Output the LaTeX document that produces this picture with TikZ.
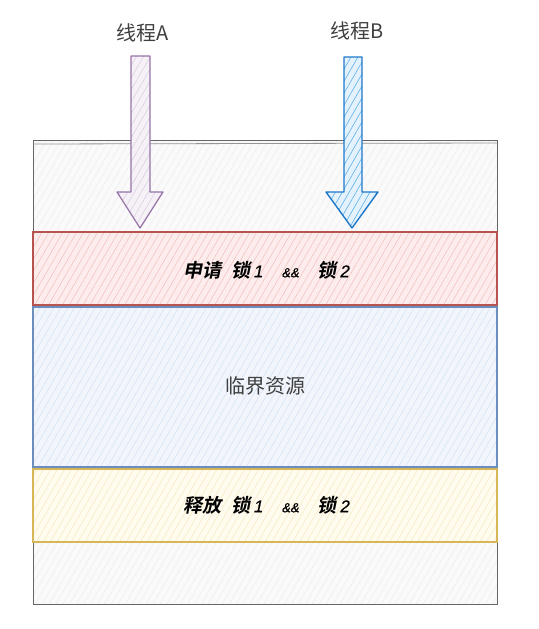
\documentclass[tikz,border=0pt]{standalone}
\usepackage{fontspec}
\usetikzlibrary{patterns.meta}
\newfontfamily\cjk{Noto Sans CJK SC}
\newfontfamily\cjkbi{Noto Sans CJK SC Bold}[FakeSlant=0.2]
\newfontfamily\latbi{Liberation Sans}[FakeSlant=0.2, FakeBold=0.6]
\definecolor{outerline}{HTML}{666666}
\definecolor{outerfill}{HTML}{FAFAFA}
\definecolor{outerhatch}{HTML}{EDEDED}
\definecolor{redline}{HTML}{B85450}
\definecolor{redfill}{HTML}{FCEDEC}
\definecolor{redhatch}{HTML}{F2BDBA}
\definecolor{blueline}{HTML}{6C8EBF}
\definecolor{bluefill}{HTML}{F2F6FC}
\definecolor{bluehatch}{HTML}{D3E1F4}
\definecolor{yelline}{HTML}{D6B656}
\definecolor{yelfill}{HTML}{FFFBEE}
\definecolor{yelhatch}{HTML}{F7E8BC}
\definecolor{purpline}{HTML}{9673A6}
\definecolor{purpfill}{HTML}{F5F1F7}
\definecolor{purphatch}{HTML}{D8CCE0}
\definecolor{bline}{HTML}{1F78C8}
\definecolor{bfill}{HTML}{E3F2FC}
\definecolor{bhatch}{HTML}{4FA8E6}
\tikzset{
  band/.style={draw=#1line, line width=1.2pt, fill=#1fill},
  hatch/.style={pattern={Lines[angle=60, distance=6pt, line width=0.5pt]}, pattern color=#1},
  lbl/.style={font=\cjk\fontsize{20}{24}\selectfont, text=black!75},
  bandlbl/.style={font=\cjkbi\fontsize{19}{23}\selectfont, text=black}
}
\newcommand{\digit}[1]{{\latbi\fontsize{17}{20}\selectfont\kern2.5pt #1}}
\newcommand{\amps}{{\latbi\fontsize{13}{15}\selectfont \&\&}}
\begin{document}
\begin{tikzpicture}[x=1pt,y=-1pt]
\useasboundingbox (0,0) rectangle (538,629);
% outer box
\path[fill=outerfill] (33,140) rectangle (497,604);
\path[hatch=outerhatch] (33,140) rectangle (497,604);
\draw[outerline, line width=1pt] (33,140) rectangle (497,604);
\draw[outerline!70, line width=0.8pt] (33,144) -- (497,143);
% bands
\path[band=red] (33,232) rectangle (497,305);
\path[hatch=redhatch] (33,232) rectangle (497,305);
\draw[redline, line width=1.2pt] (33,232) rectangle (497,305);
\node[bandlbl] (req) at (266,270) {申请\hspace{0.55em}锁\digit{1}\hspace{1.0em}\amps\hspace{1.0em}锁\digit{2}};
\path[band=blue] (33,307) rectangle (497,467);
\path[hatch=bluehatch] (33,307) rectangle (497,467);
\draw[blueline, line width=1.2pt] (33,307) rectangle (497,467);
\node[lbl] (crit) at (265,386) {临界资源};
\path[band=yel] (33,469) rectangle (497,542);
\path[hatch=yelhatch] (33,469) rectangle (497,542);
\draw[yelline, line width=1.2pt] (33,469) rectangle (497,542);
\node[bandlbl] (rel) at (266,505) {释放\hspace{0.55em}锁\digit{1}\hspace{1.0em}\amps\hspace{1.0em}锁\digit{2}};
% thread labels
\node[lbl] (ta) at (143,33) {线程A};
\node[lbl] (tb) at (357,31) {线程B};
% arrow A
\path[fill=purpfill] (131,56) -- (150,56) -- (150,192) -- (163,192) -- (140,228) -- (117,192) -- (131,192) -- cycle;
\path[hatch=purphatch] (131,56) -- (150,56) -- (150,192) -- (163,192) -- (140,228) -- (117,192) -- (131,192) -- cycle;
\draw[purpline, line width=1.2pt, line join=round] (131,56) -- (150,56) -- (150,192) -- (163,192) -- (140,228) -- (117,192) -- (131,192) -- cycle;
% arrow B
\path[fill=bfill] (344,57) -- (362,57) -- (362,192) -- (378,192) -- (352,228) -- (326,192) -- (344,192) -- cycle;
\path[hatch=bhatch] (344,57) -- (362,57) -- (362,192) -- (378,192) -- (352,228) -- (326,192) -- (344,192) -- cycle;
\draw[bline, line width=1.4pt, line join=round] (344,57) -- (362,57) -- (362,192) -- (378,192) -- (352,228) -- (326,192) -- (344,192) -- cycle;
\end{tikzpicture}
\end{document}
